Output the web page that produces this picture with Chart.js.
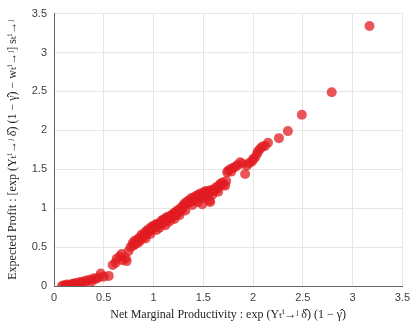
<!DOCTYPE html>
<html>
<head>
<meta charset="utf-8">
<script src="https://cdn.jsdelivr.net/npm/chart.js@4"></script>
<style>
  html, body { margin: 0; padding: 0; background: #fff; }
  canvas { display: block; }
</style>
</head>
<body>
<canvas id="myChart" width="415" height="324"></canvas>
<script>
// net marginal productivity (x) and expected profit (y)
const xVals = [
  0.08, 0.10, 0.12, 0.13, 0.15, 0.17, 0.19, 0.20, 0.22, 0.24, 0.26, 0.28, 0.30, 0.31, 0.33, 0.36, 0.38, 0.40, 0.42, 0.45, 0.47, 0.50, 0.55,
  0.59, 0.62, 0.63, 0.66, 0.68, 0.69, 0.72, 0.73, 0.75, 0.77, 0.79, 0.80,
  0.81, 0.82, 0.84, 0.85, 0.86, 0.87, 0.88, 0.90, 0.91, 0.92, 0.93, 0.94, 0.95, 0.97, 0.98, 0.99, 1.00, 1.01, 1.02, 1.03, 1.04, 1.05,
  1.07, 1.08, 1.09, 1.10, 1.11, 1.12, 1.13, 1.14, 1.15, 1.17, 1.18, 1.19, 1.20, 1.21, 1.22, 1.23, 1.24, 1.25, 1.27, 1.28, 1.29, 1.30,
  1.31, 1.33, 1.34, 1.35,
  0.92, 0.97, 1.03, 1.06, 1.12, 1.16, 1.21, 1.26, 1.32, 1.39, 1.44, 1.48, 1.54, 1.59, 1.65,
  1.36, 1.37, 1.38, 1.40, 1.41, 1.42, 1.43, 1.44, 1.45, 1.46, 1.47, 1.48, 1.49, 1.50, 1.51, 1.52, 1.53, 1.55, 1.56, 1.57, 1.57, 1.58,
  1.60, 1.61, 1.63, 1.64, 1.66, 1.67, 1.69, 1.70, 1.72, 1.73,
  1.74, 1.75, 1.77, 1.78, 1.80, 1.82, 1.84, 1.87, 1.89, 1.92, 1.94, 1.96, 1.99, 2.00, 2.02, 2.04, 2.05, 2.07, 2.09, 2.12, 2.15,
  2.26, 2.35, 2.49, 2.79, 3.17
];
const yVals = [
  0.00, 0.01, 0.00, 0.02, 0.01, 0.02, 0.03, 0.02, 0.04, 0.03, 0.05, 0.04, 0.06, 0.04, 0.07, 0.08, 0.06, 0.10, 0.09, 0.11, 0.16, 0.12, 0.13,
  0.27, 0.30, 0.35, 0.38, 0.41, 0.33, 0.36, 0.32, 0.45, 0.50, 0.55, 0.52,
  0.58, 0.54, 0.60, 0.56, 0.62, 0.59, 0.66, 0.63, 0.68, 0.66, 0.71, 0.69, 0.73, 0.71, 0.76, 0.74, 0.77, 0.75, 0.79, 0.77, 0.80, 0.78,
  0.81, 0.84, 0.80, 0.85, 0.83, 0.87, 0.84, 0.89, 0.86, 0.90, 0.87, 0.92, 0.90, 0.94, 0.91, 0.96, 0.93, 0.98, 0.96, 1.01, 0.99, 1.03,
  1.06, 1.05, 1.09, 1.07,
  0.61, 0.67, 0.72, 0.75, 0.78, 0.83, 0.86, 0.91, 0.97, 1.04, 1.08, 1.12, 1.15, 1.17, 1.21,
  1.10, 1.08, 1.13, 1.11, 1.14, 1.12, 1.16, 1.13, 1.17, 1.15, 1.19, 1.16, 1.05, 1.18, 1.21, 1.19, 1.22, 1.20, 1.10, 1.08, 1.23, 1.21,
  1.24, 1.22, 1.27, 1.25, 1.29, 1.31, 1.33, 1.30, 1.29, 1.35,
  1.46, 1.48, 1.50, 1.47, 1.52, 1.53, 1.55, 1.59, 1.57, 1.44, 1.55, 1.58, 1.60, 1.63, 1.65, 1.70, 1.73, 1.76, 1.79, 1.80, 1.84,
  1.90, 1.99, 2.20, 2.49, 3.34
];
const tickVals = [0, 0.5, 1, 1.5, 2, 2.5, 3, 3.5];

const xTitle = 'Net Marginal Productivity : exp (Yₜⁱ→ʲ δ̂) (1 − γ̂)';
const yTitle = 'Expected Profit : [exp (Yₜⁱ→ʲ δ̂) (1 − γ̂) − wₜⁱ→ʲ] sₜⁱ→ʲ';

const points = xVals.map((x, i) => ({x: x, y: yVals[i]}));

const tickFont = {family: '"Liberation Sans", Arial, sans-serif', size: 11};
const titleFont = {family: '"Liberation Serif", "DejaVu Serif", serif', size: 12};
const gridColor = '#e6e6e6';
const axisColor = '#666666';

function axis(titleText, isX) {
  return {
    type: 'linear',
    min: tickVals[0],
    max: tickVals[tickVals.length - 1],
    afterBuildTicks: function(scale) {
      scale.ticks = tickVals.map(v => ({value: v}));
    },
    afterFit: function(scale) {
      if (isX) scale.height = 38;
      else scale.width = 54;
    },
    grid: {color: gridColor, drawTicks: false},
    border: {display: true, color: axisColor, width: 1},
    ticks: {
      color: '#404040',
      font: tickFont,
      padding: isX ? 5 : 7,
      maxRotation: 0,
      callback: v => String(+v.toFixed(1))
    },
    title: {
      display: true,
      text: titleText,
      color: '#262626',
      font: titleFont,
      padding: isX ? {top: 0, bottom: 2} : {top: 6, bottom: 0}
    }
  };
}

const ctx = document.getElementById('myChart').getContext('2d');
const myScatter = new Chart(ctx, {
  type: 'scatter',
  data: {
    datasets: [{
      data: points,
      backgroundColor: 'rgba(226, 28, 33, 0.75)',
      borderWidth: 0,
      pointRadius: 5,
      pointHoverRadius: 5
    }]
  },
  options: {
    responsive: false,
    animation: false,
    devicePixelRatio: 1,
    layout: {padding: {top: 12, right: 10, bottom: 0, left: 0}},
    plugins: {legend: {display: false}, tooltip: {enabled: false}},
    scales: {
      x: axis(xTitle, true),
      y: axis(yTitle, false)
    }
  }
});
</script>
</body>
</html>
